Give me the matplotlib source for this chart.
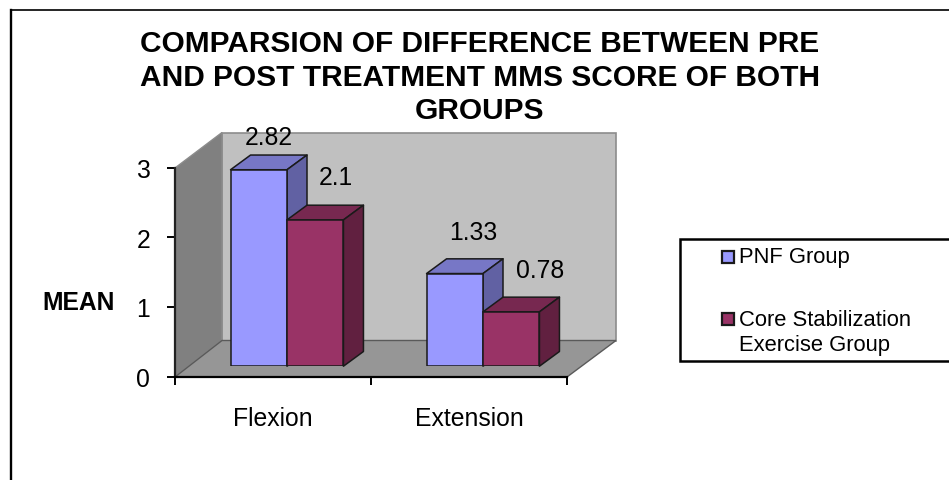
# -*- coding: utf-8 -*-
"""Pseudo-3D clustered bars: change in MMS score for both treatment groups."""
import matplotlib

matplotlib.use("Agg")
import matplotlib.pyplot as plt
from matplotlib.patches import Polygon, Rectangle

plt.rcParams["font.family"] = ["Liberation Sans", "DejaVu Sans"]

TITLE = "COMPARSION OF DIFFERENCE BETWEEN PRE\nAND POST TREATMENT MMS SCORE OF BOTH\nGROUPS"
categories = ["Flexion", "Extension"]
pnf_group = [2.82, 1.33]
core_group = [2.1, 0.78]
series_names = ["PNF Group", "Core Stabilization\nExercise Group"]
y_ticks = [0, 1, 2, 3]

W, H = 949, 481
# front plane of the box and depth of the bars, in pixels
LEFT, RIGHT, BOTTOM, TOP = 175, 567, 377.5, 168.5
BAR_SHIFT = (14, 10.3)
BAR_DEPTH = (20, 14.7)
BAR_W = 0.288

BLUE = ("#9999FF", "#7777C6", "#6161A3")
MAROON = ("#993366", "#772850", "#612040")


def px_axes(l, r, b, t):
    return fig.add_axes([l / W, 1 - b / H, (r - l) / W, (b - t) / H])


def page_axes(z):
    a = fig.add_axes([0, 0, 1, 1], zorder=z)
    a.set_xlim(0, W)
    a.set_ylim(H - 0.5, -0.5)
    a.axis("off")
    return a


fig = plt.figure(figsize=(W / 100, H / 100), dpi=100, facecolor="white")

# page layer in pixel coordinates: border, walls, floor
bg = page_axes(0)
bg.plot([10.8, 10.8], [H, 10.5], color="black", lw=1.7)
bg.plot([10.8, W], [10.5, 10.5], color="black", lw=1.2)
bg.add_patch(Polygon([(222, 133), (616, 133), (616, 341), (222, 341)], fc="#C0C0C0", ec="#8C8C8C", lw=1.2))
bg.add_patch(Polygon([(LEFT, TOP), (222, 133), (222, 341), (LEFT, BOTTOM)], fc="#808080", ec="#8C8C8C", lw=1))
bg.add_patch(Polygon([(LEFT, BOTTOM), (222, 341), (616, 341), (RIGHT, BOTTOM)], fc="#969696", ec="#5A5A5A", lw=1))

# tick frame on the front plane
ax = px_axes(LEFT, RIGHT, BOTTOM, TOP)
ax.patch.set_alpha(0)
ax.set_xlim(0, 2)
ax.set_ylim(0, 3)
for s in ("top", "right"):
    ax.spines[s].set_visible(False)
for s in ("left", "bottom"):
    ax.spines[s].set_linewidth(1.6)
ax.spines["left"].set_color("#222222")
ax.set_yticks(y_ticks)
ax.set_xticks([0, 1, 2])
ax.set_xticklabels([])
ax.set_xticks([0.5, 1.5], minor=True)
ax.set_xticklabels(categories, minor=True, fontsize=17.8)
ax.tick_params(axis="x", which="major", length=5.8, width=1.4)
ax.tick_params(axis="x", which="minor", length=0, pad=21)
ax.tick_params(axis="y", length=5.8, width=1.4, pad=12, labelsize=17.8)

# bars sit a little behind the front plane
bx = px_axes(LEFT + BAR_SHIFT[0], RIGHT + BAR_SHIFT[0], BOTTOM - BAR_SHIFT[1], TOP - BAR_SHIFT[1])
bx.patch.set_alpha(0)
bx.axis("off")
bx.set_xlim(0, 2)
bx.set_ylim(0, 3)
dx = BAR_DEPTH[0] / ((RIGHT - LEFT) / 2)
dy = BAR_DEPTH[1] / ((BOTTOM - TOP) / 3)


def draw_bar(x0, v, cols, z):
    x1 = x0 + BAR_W
    edge = dict(ec="#1A1A1A", lw=1.1, joinstyle="round", clip_on=False)
    bx.add_patch(Polygon([(x0, v), (x1, v), (x1 + dx, v + dy), (x0 + dx, v + dy)], fc=cols[1], zorder=z, **edge))
    bx.add_patch(Polygon([(x1, 0), (x1 + dx, dy), (x1 + dx, v + dy), (x1, v)], fc=cols[2], zorder=z, **edge))
    bx.bar(x0, v, BAR_W, align="edge", color=cols[0], edgecolor="#1A1A1A", linewidth=1.1, zorder=z + 0.5)


for i in range(len(categories)):
    c = i + 0.5
    draw_bar(c - BAR_W, pnf_group[i], BLUE, 2)
    draw_bar(c, core_group[i], MAROON, 3)

# value labels, offset up and right of each bar
label_offsets = [(7, 23.5), (15, 31), (13, 30), (21, 30)]
vals = [(0.5 - BAR_W / 2, pnf_group[0]), (0.5 + BAR_W / 2, core_group[0]),
        (1.5 - BAR_W / 2, pnf_group[1]), (1.5 + BAR_W / 2, core_group[1])]
for (x, v), off in zip(vals, label_offsets):
    bx.annotate(f"{v:g}", (x, v), xytext=off, textcoords="offset points",
                ha="center", va="center", fontsize=17.8, zorder=6, annotation_clip=False)

# texts and legend
top = page_axes(5)
top.text(480, 77, TITLE, ha="center", va="center", fontsize=21.5, fontweight="bold", linespacing=1.26)
top.text(78.5, 303, "MEAN", ha="center", va="center", fontsize=17.7, fontweight="bold")
top.add_patch(Rectangle((680, 239), W, 122, fc="white", ec="black", lw=1.8))

top.add_patch(Rectangle((722, 251), 12.5, 12, fc=BLUE[0], ec="#1A1A1A", lw=1.6))
top.add_patch(Rectangle((722, 313), 12.5, 12, fc=MAROON[0], ec="#1A1A1A", lw=1.6))
top.text(739, 257.5, series_names[0], va="center", fontsize=15.8)
top.text(739, 332.5, series_names[1], va="center", fontsize=15.8, linespacing=1.3)

fig.savefig("out.png", dpi=100, facecolor="white")
